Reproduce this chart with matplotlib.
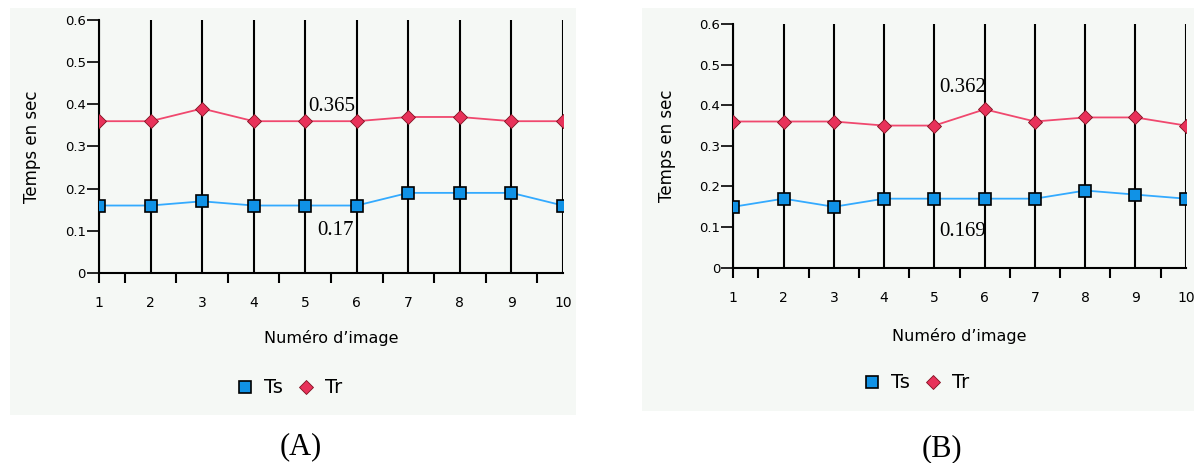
import matplotlib.pyplot as plt
from matplotlib.patches import Rectangle
from matplotlib.lines import Line2D

images = list(range(1, 11))

# panel A
ts_a = [0.16, 0.16, 0.17, 0.16, 0.16, 0.16, 0.19, 0.19, 0.19, 0.16]
tr_a = [0.36, 0.36, 0.39, 0.36, 0.36, 0.36, 0.37, 0.37, 0.36, 0.36]
# panel B
ts_b = [0.15, 0.17, 0.15, 0.17, 0.17, 0.17, 0.17, 0.19, 0.18, 0.17]
tr_b = [0.36, 0.36, 0.36, 0.35, 0.35, 0.39, 0.36, 0.37, 0.37, 0.35]

mean_a = ["0.365", "0.17"]
mean_b = ["0.362", "0.169"]
yticks = [0, 0.1, 0.2, 0.3, 0.4, 0.5, 0.6]

bg = "#f5f8f5"
ts_line = "#33aaff"
ts_face = "#1092e6"
tr_line = "#f0486e"
tr_face = "#e8325a"

fig = plt.figure(figsize=(11.94, 4.63), dpi=100)

# panel backgrounds
fig.patches.append(Rectangle((0.0084, 0.1037), 0.474, 0.879, transform=fig.transFigure,
                             facecolor=bg, edgecolor="none", zorder=-10))
fig.patches.append(Rectangle((0.5377, 0.1123), 0.4623, 0.8704, transform=fig.transFigure,
                             facecolor=bg, edgecolor="none", zorder=-10))


def draw(rect, ts, tr, labels, pos_tr, pos_ts, xpad, leg_xy, letter, letter_xy):
    ax = fig.add_axes(rect)
    ax.set_facecolor("none")
    for i in images:
        ax.plot([i, i], [0, 0.6], color="black", lw=1.5, zorder=1)
    ax.plot(images, ts, color=ts_line, lw=1.3, marker="s", markersize=8.5,
            markerfacecolor=ts_face, markeredgecolor="black", markeredgewidth=1.2, zorder=3)
    ax.plot(images, tr, color=tr_line, lw=1.3, marker="D", markersize=7,
            markerfacecolor=tr_face, markeredgecolor="#801020", markeredgewidth=0.6, zorder=3)
    ax.set_xlim(1, 10)
    ax.set_ylim(0, 0.6)
    ax.spines["top"].set_visible(False)
    ax.spines["right"].set_visible(False)
    ax.spines["left"].set_linewidth(1.5)
    ax.spines["bottom"].set_linewidth(1.5)
    # labels on the integers, tick marks only between them (and under the y axis)
    ax.xaxis.remove_overlapping_locs = False
    ax.set_xticks(images)
    ax.set_xticks([1] + [i + 0.5 for i in images[:-1]], minor=True)
    ax.set_yticks(yticks)
    ax.set_yticklabels([f"{v:g}" for v in yticks])
    ax.tick_params(axis="x", which="major", length=0, pad=16.5, labelsize=10)
    ax.tick_params(axis="x", which="minor", length=7.5, width=1.5)
    ax.tick_params(axis="y", length=9, width=1.2, pad=0.5, labelsize=9.5)
    ax.set_xlabel("Numéro d’image", fontsize=11.5, labelpad=xpad)
    ax.set_ylabel("Temps en sec", fontsize=12, labelpad=17)
    ax.text(pos_tr[0], pos_tr[1], labels[0], family="Liberation Serif", fontsize=15,
            ha="left", va="center", zorder=4)
    ax.text(pos_ts[0], pos_ts[1], labels[1], family="Liberation Serif", fontsize=15,
            ha="left", va="center", zorder=4)
    handles = [
        Line2D([], [], ls="none", marker="s", markersize=8.5, markerfacecolor=ts_face,
               markeredgecolor="black", markeredgewidth=1.2, label="Ts"),
        Line2D([], [], ls="none", marker="D", markersize=7, markerfacecolor=tr_face,
               markeredgecolor="#801020", markeredgewidth=0.6, label="Tr"),
    ]
    fig.legend(handles=handles, loc="center", bbox_to_anchor=leg_xy, ncol=2,
               frameon=False, fontsize=14, handletextpad=0.48, columnspacing=0.69,
               handlelength=1.0, borderpad=0, borderaxespad=0)
    fig.text(letter_xy[0], letter_xy[1], letter, family="Liberation Serif", fontsize=22,
             ha="center", va="center")
    return ax


draw([0.0829, 0.4104, 0.3886, 0.5464], ts_a, tr_a, mean_a, (5.05, 0.394), (5.23, 0.0996),
     14.5, (0.2416, 0.162), "(A)", (0.252, 0.035))
draw([0.6142, 0.4218, 0.3789, 0.5263], ts_b, tr_b, mean_b, (5.09, 0.443), (5.09, 0.090),
     16.5, (0.767, 0.173), "(B)", (0.789, 0.030))

fig.savefig("out.png", dpi=100)
